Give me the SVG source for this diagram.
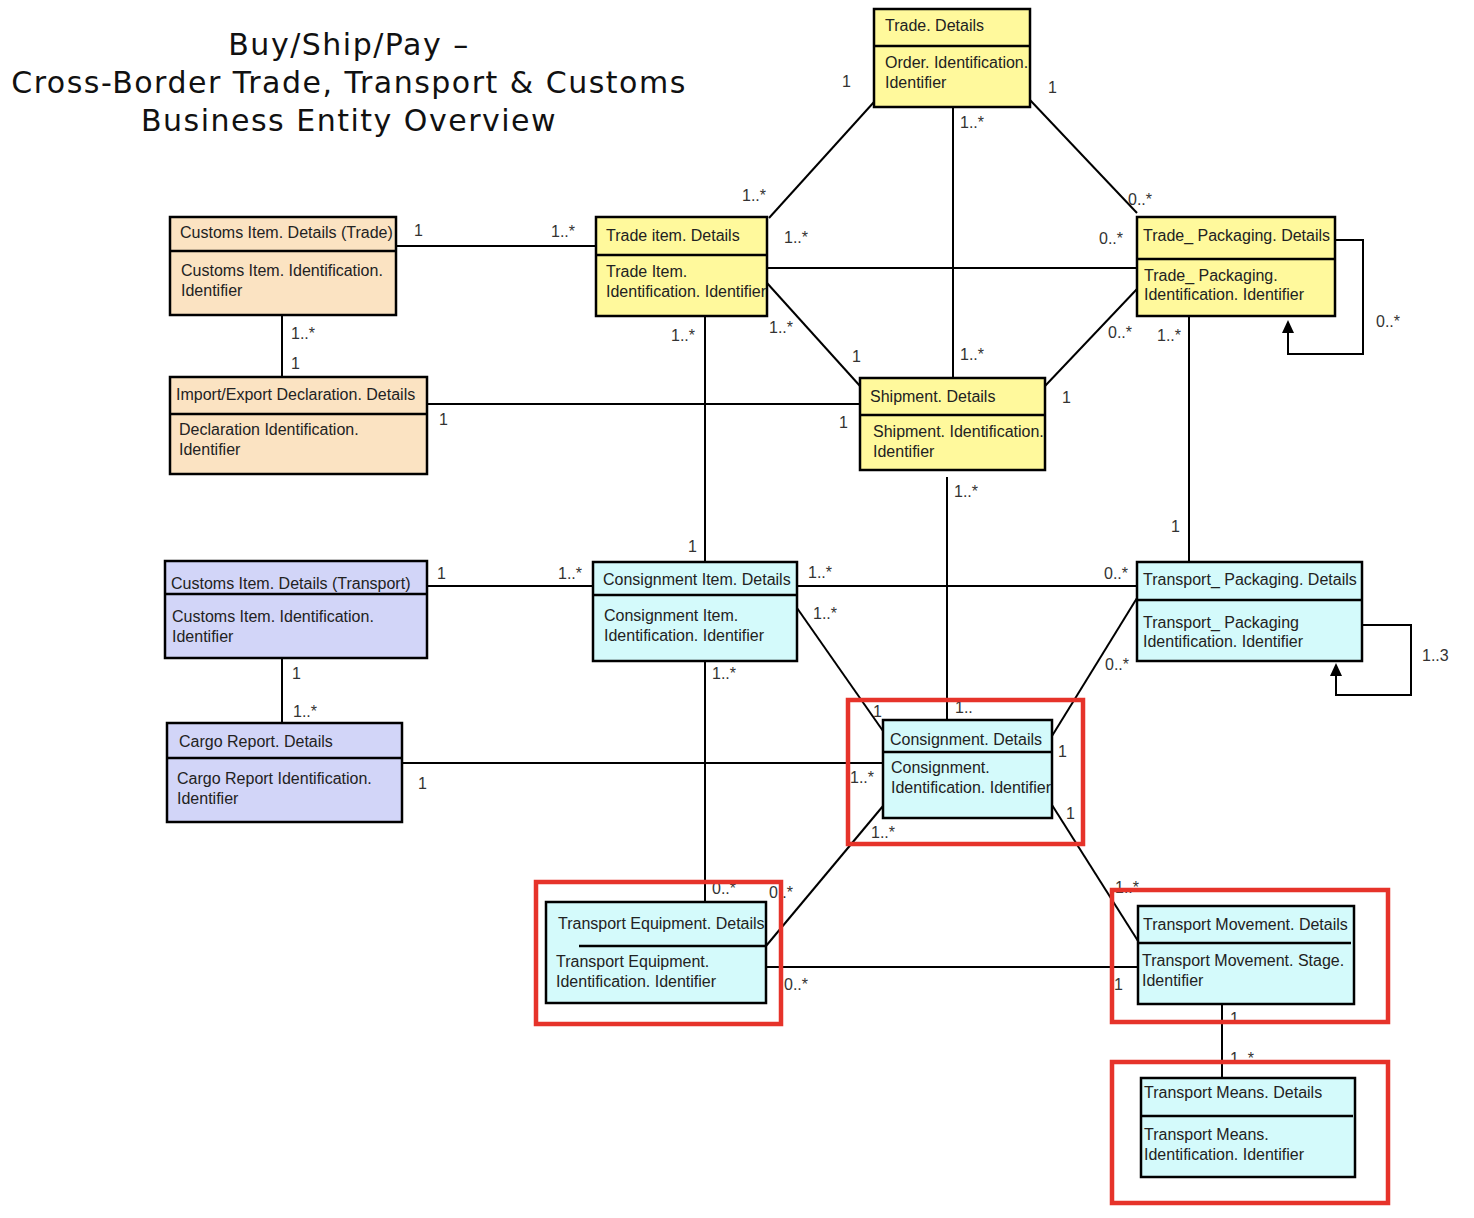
<svg xmlns="http://www.w3.org/2000/svg" width="1474" height="1218" viewBox="0 0 1474 1218">
<style>
.box{stroke:#000;stroke-width:2.5}
.y{fill:#fff99c}.p{fill:#fbe3c2}.l{fill:#d2d5f8}.c{fill:#d4fafb}
.div{stroke:#000;stroke-width:2.5}
.t{font-family:"Liberation Sans",Arial,sans-serif;font-size:16px;fill:#222}
.m{font-family:"Liberation Sans",Arial,sans-serif;font-size:16px;fill:#333}
.ttl{font-family:"DejaVu Sans",Verdana,sans-serif;font-size:30px;letter-spacing:1.5px;fill:#111;text-anchor:middle}
.con line,.con path{stroke:#000;stroke-width:2;fill:none}
.hl{fill:none;stroke:#e6332a;stroke-width:4.5}
</style>
<rect width="1474" height="1218" fill="#fff"/>
<g id="title">
<text class="ttl" x="349" y="55">Buy/Ship/Pay –</text>
<text class="ttl" x="349" y="93">Cross-Border Trade, Transport &amp; Customs</text>
<text class="ttl" x="349" y="131">Business Entity Overview</text>
</g>
<g id="connectors" class="con">
<line x1="874" y1="102" x2="769" y2="218"/>
<line x1="953" y1="107" x2="953" y2="378"/>
<line x1="1030" y1="100" x2="1137" y2="213"/>
<line x1="396" y1="246" x2="596" y2="246"/>
<line x1="282" y1="315" x2="282" y2="377"/>
<line x1="427" y1="404" x2="860" y2="404"/>
<line x1="767" y1="268" x2="1137" y2="268"/>
<line x1="767" y1="283" x2="860" y2="386"/>
<line x1="705" y1="316" x2="705" y2="562"/>
<line x1="1137" y1="289" x2="1045" y2="386"/>
<line x1="1189" y1="316" x2="1189" y2="562"/>
<path d="M1335,240 H1363 V354 H1288 V322"/>
<line x1="947" y1="477" x2="947" y2="720"/>
<line x1="427" y1="586" x2="593" y2="586"/>
<line x1="282" y1="658" x2="282" y2="723"/>
<line x1="797" y1="586" x2="1137" y2="586"/>
<line x1="797" y1="608" x2="883" y2="731"/>
<line x1="705" y1="661" x2="705" y2="902"/>
<line x1="1137" y1="598" x2="1052" y2="736"/>
<path d="M1362,625 H1411 V695 H1336 V667"/>
<line x1="402" y1="763" x2="883" y2="763"/>
<line x1="883" y1="806" x2="766" y2="946"/>
<line x1="1052" y1="805" x2="1138" y2="941"/>
<line x1="766" y1="967" x2="1138" y2="967"/>
<line x1="1222" y1="1004" x2="1222" y2="1078"/>
<path d="M1288,320 L1282,333 L1294,333 Z" style="fill:#000;stroke:none"/>
<path d="M1336,663 L1330,676 L1342,676 Z" style="fill:#000;stroke:none"/>
</g>
<g id="labels">
<text class="m" x="842" y="87">1</text>
<text class="m" x="1048" y="93">1</text>
<text class="m" x="960" y="128">1..*</text>
<text class="m" x="742" y="201">1..*</text>
<text class="m" x="1128" y="205">0..*</text>
<text class="m" x="414" y="236">1</text>
<text class="m" x="551" y="237">1..*</text>
<text class="m" x="784" y="243">1..*</text>
<text class="m" x="1099" y="244">0..*</text>
<text class="m" x="1376" y="327">0..*</text>
<text class="m" x="291" y="339">1..*</text>
<text class="m" x="291" y="369">1</text>
<text class="m" x="769" y="333">1..*</text>
<text class="m" x="671" y="341">1..*</text>
<text class="m" x="852" y="362">1</text>
<text class="m" x="960" y="360">1..*</text>
<text class="m" x="1108" y="338">0..*</text>
<text class="m" x="1157" y="341">1..*</text>
<text class="m" x="1062" y="403">1</text>
<text class="m" x="439" y="425">1</text>
<text class="m" x="839" y="428">1</text>
<text class="m" x="954" y="497">1..*</text>
<text class="m" x="1171" y="532">1</text>
<text class="m" x="688" y="552">1</text>
<text class="m" x="437" y="579">1</text>
<text class="m" x="558" y="579">1..*</text>
<text class="m" x="808" y="578">1..*</text>
<text class="m" x="1104" y="579">0..*</text>
<text class="m" x="813" y="619">1..*</text>
<text class="m" x="1105" y="670">0..*</text>
<text class="m" x="1422" y="661">1..3</text>
<text class="m" x="292" y="679">1</text>
<text class="m" x="712" y="679">1..*</text>
<text class="m" x="293" y="717">1..*</text>
<text class="m" x="873" y="717">1</text>
<text class="m" x="955" y="713">1..</text>
<text class="m" x="1058" y="757">1</text>
<text class="m" x="418" y="789">1</text>
<text class="m" x="850" y="783">1..*</text>
<text class="m" x="1066" y="819">1</text>
<text class="m" x="871" y="838">1..*</text>
<text class="m" x="712" y="894">0..*</text>
<text class="m" x="769" y="898">0..*</text>
<text class="m" x="1115" y="893">1..*</text>
<text class="m" x="784" y="990">0..*</text>
<text class="m" x="1114" y="990">1</text>
<text class="m" x="1230" y="1024">1</text>
<text class="m" x="1230" y="1064">1..*</text>
</g>
<g id="trade-details">
<rect class="box y" x="874" y="9" width="156" height="98"/>
<line class="div" x1="874" y1="46" x2="1030" y2="46"/>
<text class="t" x="885" y="31">Trade. Details</text>
<text class="t" x="885" y="68">Order. Identification.</text>
<text class="t" x="885" y="88">Identifier</text>
</g>
<g id="customs-item-trade">
<rect class="box p" x="170" y="217" width="226" height="98"/>
<line class="div" x1="170" y1="251" x2="396" y2="251"/>
<text class="t" x="180" y="238">Customs Item. Details (Trade)</text>
<text class="t" x="181" y="276">Customs Item. Identification.</text>
<text class="t" x="181" y="296">Identifier</text>
</g>
<g id="trade-item">
<rect class="box y" x="596" y="217" width="171" height="99"/>
<line class="div" x1="596" y1="255" x2="767" y2="255"/>
<text class="t" x="606" y="241">Trade item. Details</text>
<text class="t" x="606" y="277">Trade Item.</text>
<text class="t" x="606" y="297">Identification. Identifier</text>
</g>
<g id="trade-packaging">
<rect class="box y" x="1137" y="217" width="198" height="99"/>
<line class="div" x1="1137" y1="259" x2="1335" y2="259"/>
<text class="t" x="1143" y="241">Trade_ Packaging. Details</text>
<text class="t" x="1144" y="281">Trade_ Packaging.</text>
<text class="t" x="1144" y="300">Identification. Identifier</text>
</g>
<g id="import-export">
<rect class="box p" x="170" y="377" width="257" height="97"/>
<line class="div" x1="170" y1="414" x2="427" y2="414"/>
<text class="t" x="176" y="400">Import/Export Declaration. Details</text>
<text class="t" x="179" y="435">Declaration Identification.</text>
<text class="t" x="179" y="455">Identifier</text>
</g>
<g id="shipment">
<rect class="box y" x="860" y="378" width="185" height="92"/>
<line class="div" x1="860" y1="415" x2="1045" y2="415"/>
<text class="t" x="870" y="402">Shipment. Details</text>
<text class="t" x="873" y="437">Shipment. Identification.</text>
<text class="t" x="873" y="457">Identifier</text>
</g>
<g id="customs-item-transport">
<rect class="box l" x="165" y="561" width="262" height="97"/>
<line class="div" x1="165" y1="594" x2="427" y2="594"/>
<text class="t" x="171" y="589">Customs Item. Details (Transport)</text>
<text class="t" x="172" y="622">Customs Item. Identification.</text>
<text class="t" x="172" y="642">Identifier</text>
</g>
<g id="consignment-item">
<rect class="box c" x="593" y="562" width="204" height="99"/>
<line class="div" x1="593" y1="595" x2="797" y2="595"/>
<text class="t" x="603" y="585">Consignment Item. Details</text>
<text class="t" x="604" y="621">Consignment Item.</text>
<text class="t" x="604" y="641">Identification. Identifier</text>
</g>
<g id="transport-packaging">
<rect class="box c" x="1137" y="562" width="225" height="99"/>
<line class="div" x1="1137" y1="600" x2="1362" y2="600"/>
<text class="t" x="1143" y="585">Transport_ Packaging. Details</text>
<text class="t" x="1143" y="628">Transport_ Packaging</text>
<text class="t" x="1143" y="647">Identification. Identifier</text>
</g>
<g id="cargo-report">
<rect class="box l" x="167" y="723" width="235" height="99"/>
<line class="div" x1="167" y1="758" x2="402" y2="758"/>
<text class="t" x="179" y="747">Cargo Report. Details</text>
<text class="t" x="177" y="784">Cargo Report Identification.</text>
<text class="t" x="177" y="804">Identifier</text>
</g>
<g id="consignment">
<rect class="box c" x="883" y="720" width="169" height="98"/>
<line class="div" x1="883" y1="752" x2="1052" y2="752"/>
<text class="t" x="890" y="745">Consignment. Details</text>
<text class="t" x="891" y="773">Consignment.</text>
<text class="t" x="891" y="793">Identification. Identifier</text>
</g>
<g id="transport-equipment">
<rect class="box c" x="546" y="902" width="220" height="101"/>
<line class="div" x1="579" y1="946" x2="766" y2="946"/>
<text class="t" x="558" y="929">Transport Equipment. Details</text>
<text class="t" x="556" y="967">Transport Equipment.</text>
<text class="t" x="556" y="987">Identification. Identifier</text>
</g>
<g id="transport-movement">
<rect class="box c" x="1138" y="906" width="216" height="98"/>
<line class="div" x1="1138" y1="943" x2="1351" y2="943"/>
<text class="t" x="1143" y="930">Transport Movement. Details</text>
<text class="t" x="1142" y="966">Transport Movement. Stage.</text>
<text class="t" x="1142" y="986">Identifier</text>
</g>
<g id="transport-means">
<rect class="box c" x="1141" y="1078" width="214" height="99"/>
<line class="div" x1="1141" y1="1116" x2="1353" y2="1116"/>
<text class="t" x="1144" y="1098">Transport Means. Details</text>
<text class="t" x="1144" y="1140">Transport Means.</text>
<text class="t" x="1144" y="1160">Identification. Identifier</text>
</g>
<g id="highlights">
<rect class="hl" x="848" y="700" width="235" height="144"/>
<rect class="hl" x="536" y="882" width="245" height="142"/>
<rect class="hl" x="1112" y="890" width="276" height="132"/>
<rect class="hl" x="1112" y="1062" width="276" height="141"/>
</g>
</svg>
